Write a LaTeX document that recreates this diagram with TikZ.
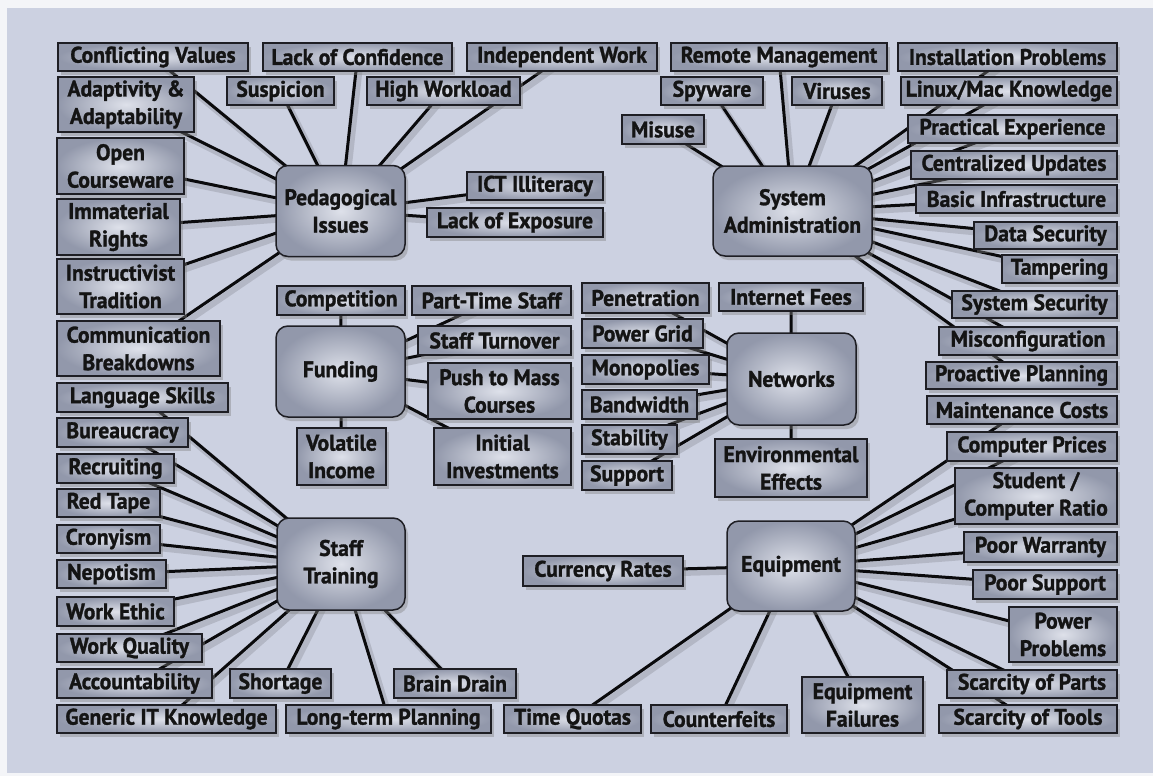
\documentclass[tikz,border=0pt]{standalone}
\usepackage{fontspec}
\setmainfont{PT Sans}
\newfontfamily\boxfont{PT Sans}[BoldFeatures={FakeBold=1.3,FakeStretch=0.96}]
\usetikzlibrary{shadows}
\definecolor{pagebg}{RGB}{244,245,248}
\definecolor{panel}{RGB}{204,209,225}
\definecolor{boxin}{RGB}{222,225,234}
\definecolor{boxout}{RGB}{146,152,171}
\definecolor{boxline}{RGB}{30,30,36}
\definecolor{conn}{RGB}{10,10,12}
\pgfdeclarelayer{bglayer}
\pgfdeclarelayer{linelayer}
\pgfsetlayers{bglayer,linelayer,main}
\tikzset{
  box/.style={draw=boxline, line width=1.5pt, shade, inner color=boxin, outer color=boxout,
    drop shadow={shadow xshift=3pt, shadow yshift=-4pt, opacity=0.4},
    font=\boxfont\fontsize{22.5}{27.5}\selectfont\bfseries, text=black!92, align=center,
    inner sep=0pt, minimum height=28pt},
  two/.style={minimum height=56pt},
  hub/.style={box, rounded corners=12pt, minimum width=129pt, minimum height=91pt},
  link/.style={draw=conn, line width=3pt},
  linkshadow/.style={draw=black, line width=6pt, opacity=0.12, transform canvas={shift={(3pt,-4pt)}}},
}
\def\connlist{ped/cv,ped/loc,ped/indw,ped/adapt,ped/susp,ped/highw,ped/opencw,ped/immat,ped/instr,ped/comm,ped/ict,ped/exposure,
sys/remote,sys/install,sys/spy,sys/vir,sys/linux,sys/misuse,sys/practical,sys/central,sys/basic,sys/datasec,sys/tamper,sys/syssec,sys/misconf,sys/proactive,
fund/comp,fund/parttime,fund/turnover,fund/push,fund/volatile,fund/initial,
net/penet,net/fees,net/grid,net/monop,net/bandw,net/stab,net/support,net/env,
staff/lang,staff/bureau,staff/recruit,staff/redtape,staff/crony,staff/nepot,staff/ethic,staff/workq,staff/account,staff/generic,staff/shortage,staff/longterm,staff/brain,
equip/currency,equip/timeq,equip/counterfeits,equip/failures,equip/maint,equip/compprice,equip/ratio,equip/warranty,equip/poorsup,equip/power,equip/parts,equip/tools}
\begin{document}
\begin{tikzpicture}[x=1pt,y=-1pt]
\useasboundingbox (0,0) rectangle (1153,776);
\begin{pgfonlayer}{bglayer}
\fill[pagebg] (0,0) rectangle (1153,776);
\fill[panel] (7,8) rectangle (1153,773);
\end{pgfonlayer}

% hubs
\node[hub] (ped) at (340.5,211) {Pedagogical\\Issues};
\node[hub, minimum width=159pt, minimum height=90pt] (sys) at (792.5,211) {System\\Administration};
\node[hub] (fund) at (340.5,371.5) {Funding};
\node[hub, minimum height=92pt] (net) at (791.5,379) {Networks};
\node[hub, minimum width=128pt, minimum height=92pt] (staff) at (341,564) {Staff\\Training};
\node[hub, minimum width=128pt, minimum height=90pt] (equip) at (791,566) {Equipment};

% top rows
\node[box, minimum width=190pt] (cv) at (153,57) {Conflicting Values};
\node[box, minimum width=189pt] (loc) at (357.5,57) {Lack of Confidence};
\node[box, minimum width=190pt] (indw) at (562,57) {Independent Work};
\node[box, minimum width=216pt] (remote) at (779,57) {Remote Management};
\node[box, minimum width=219pt] (install) at (1007.5,57) {Installation Problems};
\node[box, two, minimum width=136pt, minimum height=55pt] (adapt) at (126,104.5) {Adaptivity \&\\Adaptability};
\node[box, minimum width=107pt] (susp) at (280.5,91) {Suspicion};
\node[box, minimum width=153pt] (highw) at (443.5,91) {High Workload};
\node[box, minimum width=102pt] (spy) at (712,91) {Spyware};
\node[box, minimum width=90pt] (vir) at (837,91) {Viruses};
\node[box, minimum width=216pt] (linux) at (1009,91) {Linux/Mac Knowledge};
\node[box, minimum width=82pt, minimum height=29pt] (misuse) at (663,129.5) {Misuse};

% pedagogical left and right
\node[box, two, minimum width=127pt] (opencw) at (120.5,166) {Open\\Courseware};
\node[box, two, minimum width=123pt] (immat) at (118.5,227) {Immaterial\\Rights};
\node[box, two, minimum width=127pt, minimum height=55pt] (instr) at (120.5,286.5) {Instructivist\\Tradition};
\node[box, two, minimum width=163pt, minimum height=55pt] (comm) at (138.5,348.5) {Communication\\Breakdowns};
\node[box, minimum width=136pt] (ict) at (535,186) {ICT Illiteracy};
\node[box, minimum width=176pt, minimum height=29pt] (exposure) at (515,222.5) {Lack of Exposure};

% system administration right column
\node[box, minimum width=209pt] (practical) at (1012.5,129) {Practical Experience};
\node[box, minimum width=206pt] (central) at (1014,165) {Centralized Updates};
\node[box, minimum width=201pt] (basic) at (1016.5,199) {Basic Infrastructure};
\node[box, minimum width=143pt, minimum height=27pt] (datasec) at (1045.5,235.5) {Data Security};
\node[box, minimum width=115pt] (tamper) at (1059.5,269) {Tampering};
\node[box, minimum width=165pt, minimum height=27pt] (syssec) at (1034.5,304.5) {System Security};
\node[box, minimum width=178pt] (misconf) at (1028,341) {Misconfiguration};
\node[box, minimum width=191pt, minimum height=27pt] (proactive) at (1021.5,375.5) {Proactive Planning};
\node[box, minimum width=190pt] (maint) at (1022,410) {Maintenance Costs};

% equipment right column
\node[box, minimum width=170pt, minimum height=29pt] (compprice) at (1032,446.5) {Computer Prices};
\node[box, two, minimum width=162pt] (ratio) at (1036,496) {Student /\\Computer Ratio};
\node[box, minimum width=153pt, minimum height=30pt] (warranty) at (1040.5,547) {Poor Warranty};
\node[box, minimum width=144pt, minimum height=29pt] (poorsup) at (1045,584.5) {Poor Support};
\node[box, two, minimum width=108pt, minimum height=55pt] (power) at (1063,634.5) {Power\\Problems};
\node[box, minimum width=170pt] (parts) at (1032,684) {Scarcity of Parts};
\node[box, minimum width=178pt] (tools) at (1028,719) {Scarcity of Tools};

% bottom
\node[box, two, minimum width=121pt] (failures) at (862.5,705) {Equipment\\Failures};
\node[box, minimum width=136pt] (counterfeits) at (719,719) {Counterfeits};
\node[box, minimum width=137pt] (timeq) at (572.5,719) {Time Quotas};
\node[box, minimum width=160pt, minimum height=30pt] (currency) at (603,571) {Currency Rates};
\node[box, minimum width=205pt] (longterm) at (388.5,719) {Long-term Planning};
\node[box, minimum width=219pt] (generic) at (166.5,719) {Generic IT Knowledge};
\node[box, minimum width=122pt, minimum height=29pt] (brain) at (455,683.5) {Brain Drain};
\node[box, minimum width=101pt, minimum height=29pt] (shortage) at (280.5,683.5) {Shortage};

% staff training left column
\node[box, minimum width=155pt, minimum height=29pt] (account) at (134.5,683.5) {Accountability};
\node[box, minimum width=145pt] (workq) at (129.5,648) {Work Quality};
\node[box, minimum width=117pt, minimum height=29pt] (ethic) at (115.5,611.5) {Work Ethic};
\node[box, minimum width=109pt] (nepot) at (111.5,574) {Nepotism};
\node[box, minimum width=103pt] (crony) at (108.5,539) {Cronyism};
\node[box, minimum width=103pt] (redtape) at (108.5,503) {Red Tape};
\node[box, minimum width=117pt, minimum height=29pt] (recruit) at (115.5,468.5) {Recruiting};
\node[box, minimum width=131pt, minimum height=29pt] (bureau) at (122.5,432.5) {Bureaucracy};
\node[box, minimum width=171pt, minimum height=29pt] (lang) at (142.5,397.5) {Language Skills};

% funding
\node[box, minimum width=128pt, minimum height=29pt] (comp) at (341,300.5) {Competition};
\node[box, minimum width=159pt, minimum height=29pt] (parttime) at (491.5,300.5) {Part-Time Staff};
\node[box, minimum width=153pt, minimum height=29pt] (turnover) at (494.5,340.5) {Staff Turnover};
\node[box, two, minimum width=143pt] (push) at (499.5,391) {Push to Mass\\Courses};
\node[box, two, minimum width=89pt, minimum height=57pt] (volatile) at (341.5,456.5) {Volatile\\Income};
\node[box, two, minimum width=137pt, minimum height=57pt] (initial) at (502.5,456.5) {Initial\\Investments};

% networks
\node[box, minimum width=127pt, minimum height=30pt] (penet) at (645.5,298) {Penetration};
\node[box, minimum width=144pt] (fees) at (791,297) {Internet Fees};
\node[box, minimum width=121pt, minimum height=29pt] (grid) at (642.5,333.5) {Power Grid};
\node[box, minimum width=127pt, minimum height=29pt] (monop) at (645.5,369.5) {Monopolies};
\node[box, minimum width=115pt, minimum height=29pt] (bandw) at (639.5,404.5) {Bandwidth};
\node[box, minimum width=95pt, minimum height=29pt] (stab) at (629.5,439.5) {Stability};
\node[box, minimum width=90pt, minimum height=29pt] (support) at (627,475.5) {Support};
\node[box, two, minimum width=152pt, minimum height=58pt] (env) at (791,468) {Environmental\\Effects};

\begin{pgfonlayer}{linelayer}
\foreach \h/\n in \connlist
  \draw[linkshadow] (\h.center) -- (\n.center);
\foreach \h/\n in \connlist
  \draw[link] (\h.center) -- (\n.center);
\end{pgfonlayer}
\end{tikzpicture}
\end{document}
